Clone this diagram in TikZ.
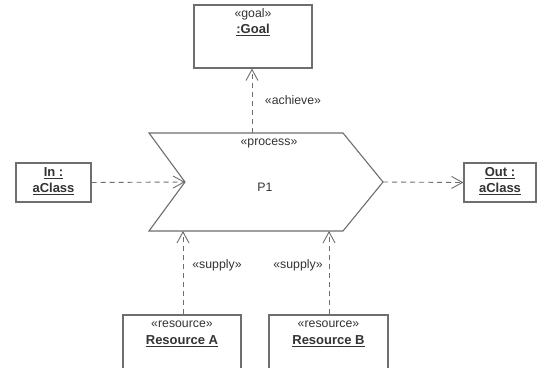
\documentclass[tikz,border=0pt]{standalone}
\usepackage{fontspec}
\setmainfont{Liberation Sans}
\usetikzlibrary{arrows.meta}
\definecolor{linegray}{HTML}{6E6E6E}
\definecolor{textgray}{HTML}{333333}
\tikzset{
  box/.style={draw=linegray, line width=1.1pt, fill=white, inner sep=0pt},
  stereo/.style={text=textgray, font=\fontsize{12.3}{14}\selectfont, inner sep=0pt},
  objname/.style={text=textgray, font=\fontsize{13}{16}\selectfont\bfseries, inner sep=0pt, align=center},
  dep/.style={draw=linegray, line width=0.9pt, dash pattern=on 5pt off 4pt,
    -{Straight Barb[length=11pt,width=12pt,line width=0.9pt]}},
  proc/.style={draw=linegray, line width=1.1pt}
}
\begin{document}
\begin{tikzpicture}[x=1pt,y=-1pt]
\useasboundingbox (0,0) rectangle (537,367);
\clip (0,0) rectangle (537,367);
\fill[white] (0,0) rectangle (537,367);
% process shape
\coordinate (ptl) at (149,133);
\coordinate (ptr) at (343,133);
\coordinate (ptip) at (383,182);
\coordinate (pbr) at (343,231);
\coordinate (pbl) at (149,231);
\coordinate (pnotch) at (185,182);
\draw[proc] (ptl) -- (ptr) -- (ptip) -- (pbr) -- (pbl) -- (pnotch) -- cycle;
\node[stereo] (pster) at (269,143) {«process»};
\node[stereo] (pname) at (265,187) {P1};
\coordinate (ptopmid) at (252,133);
\coordinate (pbotA) at (183,231);
\coordinate (pbotB) at (329,231);
% goal
\node[box, minimum width=118pt, minimum height=63pt] (goal) at (253,36.5) {};
\node[stereo] (goalster) at (253,14) {«goal»};
\node[objname] (goalname) at (253,30) {\underline{:Goal}};
% in / out
\node[box, minimum width=75pt, minimum height=39pt] (in) at (53.5,182.5) {};
\node[objname] (intext) at (53.5,181) {\underline{In :}\\\underline{aClass}};
\node[box, minimum width=72pt, minimum height=39pt] (out) at (500,182.5) {};
\node[objname] (outtext) at (500,181) {\underline{Out :}\\\underline{aClass}};
% resources
\node[box, minimum width=118pt, minimum height=80pt] (resA) at (182,355) {};
\node[stereo] (resAster) at (182,324) {«resource»};
\node[objname] (resAname) at (182,341) {\underline{Resource A}};
\node[box, minimum width=119pt, minimum height=80pt] (resB) at (328.5,355) {};
\node[stereo] (resBster) at (328.5,324) {«resource»};
\node[objname] (resBname) at (328.5,341) {\underline{Resource B}};
% connectors
\draw[dep] (in.east) -- (pnotch);
\draw[dep] (ptip) -- (out.west);
\draw[dep] (ptopmid) -- (goal.south -| ptopmid);
\draw[dep] (resA.north -| pbotA) -- (pbotA);
\draw[dep] (resB.north -| pbotB) -- (pbotB);
% labels
\node[stereo] (lachieve) at (293,100) {«achieve»};
\node[stereo] (lsupplyA) at (217,265) {«supply»};
\node[stereo] (lsupplyB) at (298,265) {«supply»};
\end{tikzpicture}
\end{document}
